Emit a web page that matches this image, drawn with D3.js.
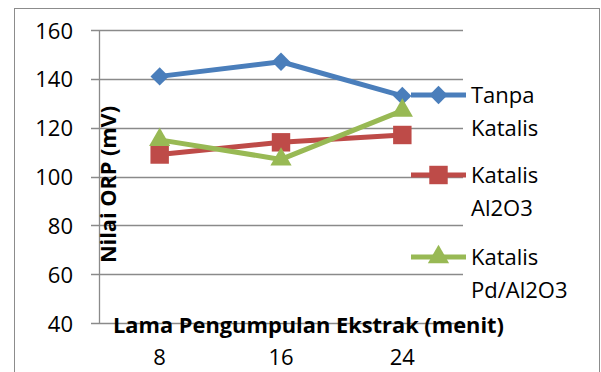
<!DOCTYPE html>
<html>
<head>
<meta charset="utf-8">
<script src="https://cdn.jsdelivr.net/npm/d3@7"></script>
<style>
  html, body { margin: 0; padding: 0; background: #fff; }
  svg { display: block; font-family: "Open Sans", "Noto Sans", sans-serif; }
</style>
</head>
<body>
<svg id="chart" width="601" height="372"></svg>
<script>
// Time of extract collection (minutes)
const categories = ["8", "16", "24"];
// ORP values (mV) per catalyst condition
const tanpaKatalis = [141, 147, 133];
const katalisAl2O3 = [109, 114, 117];
const katalisPdAl2O3 = [115, 107, 127];
const yTicks = [40, 60, 80, 100, 120, 140, 160];
const seriesNames = [["Tanpa", "Katalis"], ["Katalis", "Al2O3"], ["Katalis", "Pd/Al2O3"]];

const series = [
  { values: tanpaKatalis, color: "#4A7EBB", marker: d3.symbolDiamond2, size: 215 },
  { values: katalisAl2O3, color: "#BE4B48", marker: d3.symbolSquare, size: 340 },
  { values: katalisPdAl2O3, color: "#98B954", marker: d3.symbolTriangle, size: 195 }
];

const svg = d3.select("#chart");
const plot = { left: 99, right: 463, top: 30, bottom: 323 };
const fontSize = 22;

// Outer frame
svg.append("rect")
  .attr("x", 14.5).attr("y", 8.5).attr("width", 585).attr("height", 420)
  .attr("fill", "none").attr("stroke", "#8c8c8c").attr("stroke-width", 1);

const x = d3.scaleBand().domain(categories).range([plot.left, plot.right]);
const y = d3.scaleLinear().domain([40, 160]).range([plot.bottom, plot.top]);

// Horizontal gridlines
svg.append("g").selectAll("line").data(yTicks).join("line")
  .attr("x1", plot.left - 8).attr("x2", plot.right)
  .attr("y1", d => Math.round(y(d)) + 0.5).attr("y2", d => Math.round(y(d)) + 0.5)
  .attr("stroke", "#8a8a8a").attr("stroke-width", 1.3);

// Y axis
const yAxis = d3.axisLeft(y).tickValues(yTicks).tickSize(0).tickPadding(0);
const gy = svg.append("g").attr("transform", `translate(${plot.left - 26},1)`).call(yAxis);
gy.select(".domain").remove();
gy.selectAll("text").attr("font-size", fontSize).attr("fill", "#000")
  .attr("font-family", "Open Sans, sans-serif");
svg.append("line")
  .attr("x1", plot.left + 0.5).attr("x2", plot.left + 0.5)
  .attr("y1", plot.top).attr("y2", plot.bottom + 1)
  .attr("stroke", "#8a8a8a").attr("stroke-width", 1.3);

// X axis labels
const xAxis = d3.axisBottom(x).tickSize(0).tickPadding(0);
const gx = svg.append("g").attr("transform", `translate(0,${plot.bottom + 26})`).call(xAxis);
gx.select(".domain").remove();
gx.selectAll("text").attr("font-size", fontSize).attr("fill", "#000")
  .attr("font-family", "Open Sans, sans-serif");

// Axis titles
svg.append("text")
  .attr("x", 308.5).attr("y", 333)
  .attr("text-anchor", "middle").attr("font-weight", "bold").attr("font-size", 21.5)
  .attr("textLength", 391).attr("lengthAdjust", "spacingAndGlyphs")
  .text("Lama Pengumpulan Ekstrak (menit)");
svg.append("text")
  .attr("transform", "translate(116,184.5) rotate(-90)")
  .attr("text-anchor", "middle").attr("font-weight", "bold").attr("font-size", 21)
  .attr("textLength", 157).attr("lengthAdjust", "spacingAndGlyphs")
  .text("Nilai ORP (mV)");

// Series lines and markers
const line = d3.line().x((d, i) => x(categories[i]) + x.bandwidth() / 2).y(d => y(d));
series.forEach(s => {
  svg.append("path").datum(s.values)
    .attr("d", line).attr("fill", "none")
    .attr("stroke", s.color).attr("stroke-width", 5).attr("stroke-linejoin", "round");
  svg.append("g").selectAll("path").data(s.values).join("path")
    .attr("transform", (d, i) => `translate(${x(categories[i]) + x.bandwidth() / 2},${y(d)})`)
    .attr("d", d3.symbol(s.marker, s.size))
    .attr("fill", s.color);
});

// Legend
const legendY = [95, 175, 257];
series.forEach((s, i) => {
  const g = svg.append("g").attr("transform", `translate(0,${legendY[i]})`);
  g.append("line").attr("x1", 411).attr("x2", 466).attr("y1", 0).attr("y2", 0)
    .attr("stroke", s.color).attr("stroke-width", 5);
  g.append("path").attr("transform", "translate(438.5,0)")
    .attr("d", d3.symbol(s.marker, s.size)).attr("fill", s.color);
  seriesNames[i].forEach((t, j) => {
    g.append("text").attr("x", 471).attr("y", 8 + j * 33)
      .attr("font-size", fontSize).attr("fill", "#000").text(t);
  });
});
</script>
</body>
</html>
